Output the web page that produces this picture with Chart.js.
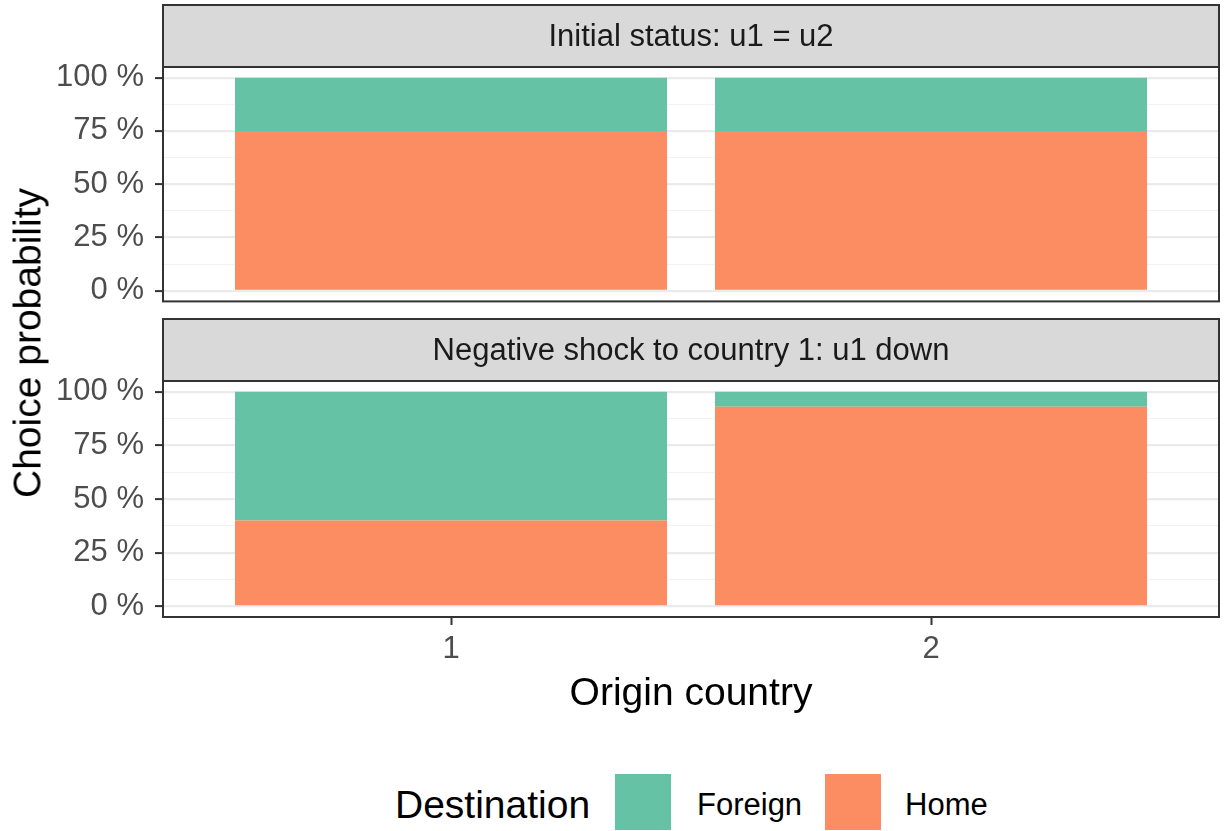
<!DOCTYPE html>
<html>
<head>
<meta charset="utf-8">
<script src="https://cdn.jsdelivr.net/npm/chart.js@4.4.1/dist/chart.umd.min.js"></script>
<style>
  body { margin: 0; background: #fff; font-family: "Liberation Sans", Arial, sans-serif; }
  #wrap { position: relative; width: 1225px; height: 831px; }
  canvas { position: absolute; left: 0; }
  #ytitle { position: absolute; left: 27px; top: 343px; transform: translate(-50%, -50%) rotate(-90deg);
            font-size: 39px; line-height: 39px; color: #000; white-space: nowrap; }
  .leg { position: absolute; font-size: 31px; line-height: 31px; color: #000; white-space: nowrap; }
  .box { position: absolute; width: 56px; height: 56px; }
</style>
</head>
<body>
<div id="wrap">
  <canvas id="top" width="1225" height="331" style="top:0;width:1225px;height:331px"></canvas>
  <canvas id="bottom" width="1225" height="404" style="top:316px;width:1225px;height:404px"></canvas>
  <div id="ytitle">Choice probability</div>
  <div class="leg" style="left:395px;top:785px;font-size:39px;line-height:39px">Destination</div>
  <div class="box" style="left:615px;top:774px;background:#66C2A5"></div>
  <div class="leg" style="left:697px;top:789px">Foreign</div>
  <div class="box" style="left:825px;top:774px;background:#FC8D62"></div>
  <div class="leg" style="left:905px;top:789px">Home</div>
</div>
<script>
// data
const origins = [1, 2];
const panelTitles = ['Initial status: u1 = u2', 'Negative shock to country 1: u1 down'];
const homeInitial = [0.75, 0.75];
const foreignInitial = [0.25, 0.25];
const homeShock = [0.40, 0.93];
const foreignShock = [0.60, 0.07];
const yTicks = [0, 0.125, 0.25, 0.375, 0.5, 0.625, 0.75, 0.875, 1];

const FONT = '"Liberation Sans", Arial, sans-serif';
const isMajor = v => Math.abs(v * 4 - Math.round(v * 4)) < 1e-6;

// strip on top of the panel + dark border around the panel
const panelFrame = {
  id: 'panelFrame',
  afterDraw(chart, args, opts) {
    const { ctx, chartArea: a } = chart;
    ctx.save();
    ctx.fillStyle = '#D9D9D9';
    ctx.fillRect(a.left, a.top - opts.stripH, a.right - a.left, opts.stripH);
    ctx.strokeStyle = '#333333';
    ctx.lineWidth = 2;
    ctx.strokeRect(a.left, a.top - opts.stripH, a.right - a.left, opts.stripH);
    ctx.strokeRect(a.left, a.top, a.right - a.left, a.bottom - a.top);
    ctx.fillStyle = '#1A1A1A';
    ctx.font = '31px ' + FONT;
    ctx.textAlign = 'center';
    ctx.textBaseline = 'middle';
    ctx.fillText(opts.text, (a.left + a.right) / 2, a.top - opts.stripH / 2 + 1);
    ctx.restore();
  }
};

function makeChart(id, home, foreign, title, showX, padding, xHeight) {
  const toPts = arr => origins.map((o, i) => ({ x: o, y: arr[i] }));
  return new Chart(document.getElementById(id), {
    type: 'bar',
    data: {
      datasets: [
        { label: 'Home', data: toPts(home), backgroundColor: '#FC8D62' },
        { label: 'Foreign', data: toPts(foreign), backgroundColor: '#66C2A5' }
      ]
    },
    options: {
      responsive: false,
      animation: false,
      layout: { padding },
      barPercentage: 0.9,
      categoryPercentage: 1,
      plugins: {
        legend: { display: false },
        tooltip: { enabled: false },
        panelFrame: { text: title, stripH: 62 }
      },
      scales: {
        x: {
          type: 'linear', stacked: true, min: 0.4, max: 2.6, offset: false,
          afterBuildTicks: s => { s.ticks = origins.map(v => ({ value: v })); },
          afterFit: s => { s.height = xHeight; },
          border: { display: false },
          grid: { offset: false, drawOnChartArea: false, drawTicks: showX, tickLength: 8,
                  tickColor: showX ? '#333333' : 'rgba(0,0,0,0)', tickWidth: 2 },
          ticks: { display: showX, font: { size: 31, family: FONT }, color: '#4D4D4D', padding: 6, callback: v => String(v) },
          title: { display: showX, text: 'Origin country', font: { size: 39, family: FONT }, color: '#000', padding: { top: 4, bottom: 2 } }
        },
        y: {
          stacked: true, min: -0.05, max: 1.05,
          afterBuildTicks: s => { s.ticks = yTicks.map(v => ({ value: v })); },
          afterFit: s => { s.width = 163; },
          border: { display: false },
          grid: {
            color: c => isMajor(c.tick.value) ? '#EBEBEB' : '#F2F2F2',
            lineWidth: c => isMajor(c.tick.value) ? 2.2 : 1.1,
            tickColor: c => isMajor(c.tick.value) ? '#333333' : 'rgba(0,0,0,0)',
            tickLength: 8, tickWidth: 2
          },
          ticks: {
            font: { size: 31, family: FONT }, color: '#4D4D4D', padding: 11, autoSkip: false,
            callback: v => isMajor(v) ? Math.round(v * 100) + ' %' : ''
          }
        }
      }
    },
    plugins: [panelFrame]
  });
}

makeChart('top', homeInitial, foreignInitial, panelTitles[0], false, { top: 67, right: 6, bottom: 0, left: 0 }, 9);
makeChart('bottom', homeShock, foreignShock, panelTitles[1], true, { top: 65, right: 6, bottom: 0, left: 0 }, 103);
</script>
</body>
</html>
